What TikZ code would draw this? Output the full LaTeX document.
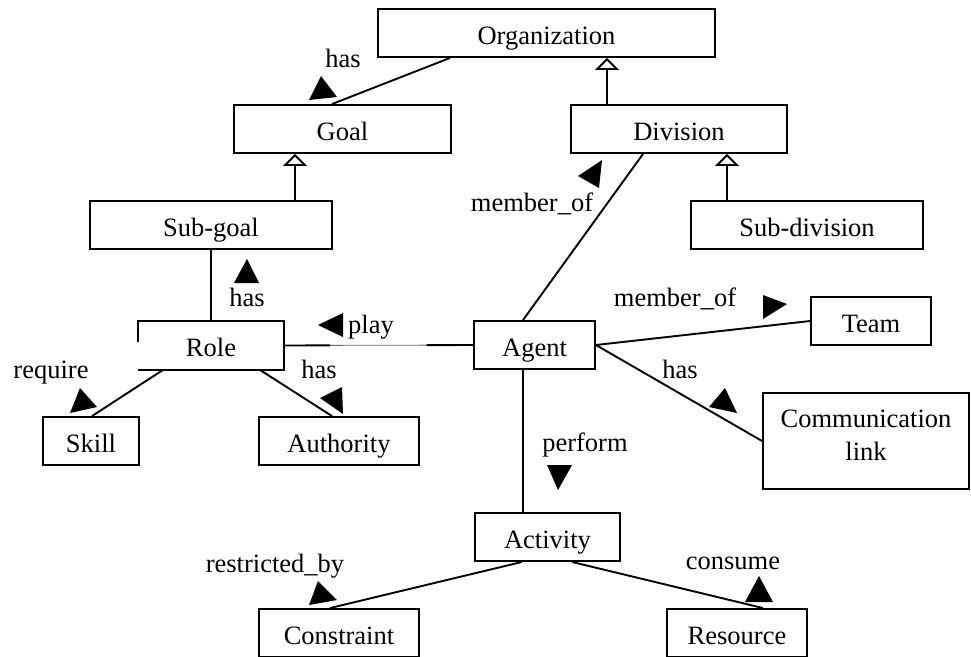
\documentclass[tikz,border=0pt]{standalone}
\usepackage{fontspec}
\setmainfont{Liberation Serif}
\usetikzlibrary{arrows.meta,calc}
\begin{document}
\begin{tikzpicture}[x=1pt,y=-1pt,
  every node/.style={font=\fontsize{26.5}{33}\selectfont},
  cls/.style={draw, line width=1.9pt, inner sep=0pt, text height=22pt, text depth=0pt},
  lbl/.style={anchor=base, inner sep=0pt},
  link/.style={line width=1.9pt},
  isa/.style={line width=1.9pt, -{Triangle[open, length=12pt, width=24pt, line width=1.9pt]}},
  marker/.style={fill=black}
]
\useasboundingbox (0,0) rectangle (971,656);
\clip (0,0) rectangle (971,656);

% classes
\node[cls, minimum width=337pt, minimum height=48pt] (org) at (546.5,33) {Organization};
\node[cls, minimum width=217pt, minimum height=48pt] (goal) at (342.5,129) {Goal};
\node[cls, minimum width=216pt, minimum height=48pt] (div) at (679,129) {Division};
\node[cls, minimum width=242pt, minimum height=48pt] (subgoal) at (211,225) {Sub-goal};
\node[cls, minimum width=232pt, minimum height=48pt] (subdiv) at (807,225) {Sub-division};
\node[cls, draw=none, minimum width=144pt, minimum height=47pt] (role) at (211,345.5) {Role};
\draw[link] ([yshift=-21pt]role.north west) -- (role.north west) -- (role.north east)
  -- (role.south east) -- (role.south west);
\node[cls, minimum width=96pt, minimum height=48pt] (skill) at (91,441) {Skill};
\node[cls, minimum width=160pt, minimum height=48pt] (auth) at (339,441) {Authority};
\node[cls, minimum width=121pt, minimum height=48pt] (agent) at (534.5,345) {Agent};
\node[cls, minimum width=120pt, minimum height=48pt] (team) at (871,321) {Team};
\node[draw, line width=1.9pt, inner sep=0pt, minimum width=206pt, minimum height=96pt,
  label={[yshift=6pt, align=center, inner sep=0pt]center:{Communication\\link}}] (comm) at (866,441) {};
\node[cls, minimum width=145pt, minimum height=48pt] (activity) at (547.5,537) {Activity};
\node[cls, minimum width=160pt, minimum height=48pt] (constraint) at (339,633) {Constraint};
\node[cls, minimum width=140pt, minimum height=48pt] (resource) at (737,633) {Resource};

% generalisation
\draw[isa] ([xshift=84pt]subgoal.north) -- ([xshift=-47.5pt]goal.south);
\draw[isa] ([xshift=-72pt]div.north) -- ([xshift=60.5pt]org.south);
\draw[isa] ([xshift=-80pt]subdiv.north) -- ([xshift=48pt]div.south);

% associations
\draw[link] ([xshift=-96.5pt]org.south) -- ([xshift=-10.5pt]goal.north);
\draw[link] ([xshift=-36pt]div.south) -- ([xshift=-11.5pt]agent.north);
\draw[link] (subgoal.south) -- (role.north);
\coordinate (playA) at ($(role.east)!0.246!(agent.west)$);
\coordinate (playB) at ($(role.east)!0.754!(agent.west)$);
\draw[link] (role.east) -- (playA);
\draw[line width=0.8pt, black!60] (playA) -- (playB);
\draw[link] (playB) -- (agent.west);
\draw[link] ([xshift=-48pt]role.south) -- ([xshift=1pt]skill.north);
\draw[link] ([xshift=49pt]role.south) -- ([xshift=-7pt]auth.north);
\draw[link] (agent.east) -- (team.west);
\draw[link] (agent.east) -- (comm.west);
\draw[link] ([xshift=-11.5pt]agent.south) -- ([xshift=-24.5pt]activity.north);
\draw[link] ([xshift=-25.5pt]activity.south) -- ([xshift=-9pt]constraint.north);
\draw[link] ([xshift=24.5pt]activity.south) -- ([xshift=26pt]resource.north);

% direction markers
\fill[marker] (309,100) -- (321,76) -- (337,97) -- cycle;
\fill[marker] (602,160) -- (578,176) -- (599,188) -- cycle;
\fill[marker] (234,283) -- (247,259) -- (259,283) -- cycle;
\fill[marker] (318,325) -- (343,313) -- (343,337) -- cycle;
\fill[marker] (70,413) -- (80,388) -- (97,407) -- cycle;
\fill[marker] (320,398) -- (342,387) -- (343,414) -- cycle;
\fill[marker] (763,295) -- (763,319) -- (787,304) -- cycle;
\fill[marker] (709,407) -- (725,388) -- (737,413) -- cycle;
\fill[marker] (547,465) -- (572,465) -- (558,490) -- cycle;
\fill[marker] (309,605) -- (318,581) -- (337,600) -- cycle;
\fill[marker] (745,602) -- (759,576) -- (773,602) -- cycle;

% association names
\node[lbl] (l1) at (343,67) {has};
\node[lbl] (l2) at (532,211) {member\_of};
\node[lbl] (l3) at (247,306) {has};
\node[lbl] (l4) at (371,333) {play};
\node[lbl] (l5) at (51,378) {require};
\node[lbl] (l6) at (319,378) {has};
\node[lbl] (l7) at (675,306) {member\_of};
\node[lbl] (l8) at (680,378) {has};
\node[lbl] (l9) at (585,451) {perform};
\node[lbl] (l10) at (275,572) {restricted\_by};
\node[lbl] (l11) at (733,569) {consume};
\end{tikzpicture}
\end{document}
